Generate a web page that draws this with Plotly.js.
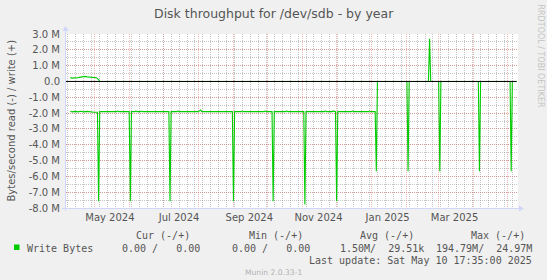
<!DOCTYPE html>
<html><head><meta charset="utf-8">
<script src="https://cdn.plot.ly/plotly-3.0.1.min.js"></script>
<style>html,body{margin:0;padding:0;background:#F0F0F0;}#chart{width:547px;height:280px;}</style>
</head><body><div id="chart"></div>
<script>
// ---------------- data ----------------
const readDates = [
 '2024-04-10','2024-04-12','2024-04-14','2024-04-17','2024-04-19','2024-04-22','2024-04-25','2024-04-28','2024-05-01','2024-05-04',
 '2024-05-05','2024-05-06','2024-05-21','2024-05-22','2024-05-23','2024-06-01','2024-06-02','2024-06-03','2024-06-06','2024-06-07',
 '2024-06-08','2024-06-11','2024-06-12','2024-06-13','2024-06-16','2024-06-17','2024-06-18','2024-07-06','2024-07-07','2024-07-08',
 '2024-07-13','2024-07-14','2024-07-15','2024-07-23','2024-07-24','2024-07-25','2024-08-01','2024-08-03','2024-08-04','2024-08-31',
 '2024-09-01','2024-09-02','2024-09-08','2024-09-09','2024-09-10','2024-09-28','2024-09-29','2024-09-30','2024-10-05','2024-10-06',
 '2024-10-07','2024-10-17','2024-10-18','2024-10-19','2024-11-02','2024-11-03','2024-11-04','2024-11-20','2024-11-21','2024-11-22',
 '2024-11-27','2024-11-28','2024-11-29','2024-11-30','2024-12-01','2024-12-02','2024-12-14','2024-12-15','2024-12-16','2024-12-29',
 '2024-12-30','2024-12-31','2025-01-04','2025-01-05','2025-01-06','2025-02-01','2025-02-02','2025-02-03','2025-03-01','2025-03-02',
 '2025-03-03','2025-04-05','2025-04-06','2025-04-07','2025-05-03','2025-05-04','2025-05-05','2025-05-09'
];
const readBytes = [
 -1.90e6,-1.92e6,-1.89e6,-1.92e6,-1.88e6,-1.92e6,-1.89e6,-1.93e6,-1.95e6,-1.95e6,
 -7.57e6,-1.91e6,-1.91e6,-1.86e6,-1.91e6,-1.91e6,-7.57e6,-1.91e6,-1.91e6,-1.86e6,
 -1.91e6,-1.91e6,-1.87e6,-1.91e6,-1.91e6,-1.87e6,-1.91e6,-1.91e6,-7.57e6,-1.91e6,
 -1.91e6,-1.86e6,-1.91e6,-1.91e6,-1.87e6,-1.91e6,-1.91e6,-1.80e6,-1.91e6,-1.91e6,
 -7.57e6,-1.91e6,-1.91e6,-1.86e6,-1.91e6,-1.91e6,-1.86e6,-1.91e6,-1.91e6,-7.57e6,
 -1.91e6,-1.91e6,-1.86e6,-1.91e6,-1.91e6,-7.78e6,-1.91e6,-1.91e6,-1.86e6,-1.91e6,
 -1.91e6,-1.86e6,-1.91e6,-1.91e6,-7.57e6,-1.91e6,-1.91e6,-1.86e6,-1.91e6,-1.91e6,
 -1.86e6,-1.91e6,-1.91e6,-5.68e6,0,0,-5.68e6,0,0,-5.68e6,
 0,0,-5.68e6,0,0,-5.68e6,0,0
];
const writeDates = [
 '2024-04-10','2024-04-12','2024-04-14','2024-04-16','2024-04-18','2024-04-20','2024-04-23','2024-04-25','2024-04-28','2024-05-01',
 '2024-05-03','2024-05-05','2024-05-06','2025-02-20','2025-02-21','2025-02-22','2025-05-09'
];
const writeBytes = [
 0.24e6,0.21e6,0.23e6,0.22e6,0.26e6,0.30e6,0.32e6,0.29e6,0.28e6,0.27e6,
 0.24e6,0.12e6,0,0,2.70e6,0,0
];
const monthGridDates = ['2024-05-01','2024-06-01','2024-07-01','2024-08-01','2024-09-01','2024-10-01','2024-11-01',
 '2024-12-01','2025-01-01','2025-02-01','2025-03-01','2025-04-01','2025-05-01'];
const monthLabelDates = ['2024-05-15','2024-07-15','2024-09-15','2024-11-15','2025-01-15','2025-03-15'];
const monthLabels = ['May 2024','Jul 2024','Sep 2024','Nov 2024','Jan 2025','Mar 2025'];
const yTickValues = [3e6,2e6,1e6,0,-1e6,-2e6,-3e6,-4e6,-5e6,-6e6,-7e6,-8e6];
const yTickLabels = ['3.0 M','2.0 M','1.0 M','0.0','-1.0 M','-2.0 M','-3.0 M','-4.0 M','-5.0 M','-6.0 M','-7.0 M','-8.0 M'];
const chartTitle = 'Disk throughput for /dev/sdb - by year';
const yTitle = 'Bytes/second read (-) / write (+)';
const seriesName = 'Write Bytes';
const legendHeaders = ['Cur (-/+)','Min (-/+)','Avg (-/+)','Max (-/+)'];
const legendValues = ['0.00 /   0.00','0.00 /   0.00','1.50M/  29.51k','194.79M/  24.97M'];
const lastUpdate = 'Last update: Sat May 10 17:35:00 2025';
const watermark = 'Munin 2.0.33-1';
const sideMark = 'RRDTOOL / TOBI OETIKER';

// ---------------- layout helpers ----------------
const W = 547, H = 280;
const M = {l: 66, r: 29, t: 34, b: 72};
const PW = W - M.l - M.r, PH = H - M.t - M.b;
const px = x => (x - M.l) / PW;
const py = y => (H - M.b - y) / PH;
const nb = s => s.replace(/ /g, '\u00A0');
const GREEN = '#00CC00';
const TXT = '#555555';
const AXIS = '#CFD6F8';
const xRange = ['2024-04-06 06:00', '2025-05-10 00:00'];
const WEEK = 7 * 86400000;

const traces = [
 {x: readDates, y: readBytes, type: 'scatter', mode: 'lines', line: {color: GREEN, width: 1.1}, hoverinfo: 'skip', showlegend: false},
 {x: writeDates, y: writeBytes, type: 'scatter', mode: 'lines', line: {color: GREEN, width: 1.1}, name: seriesName, showlegend: false},
 {x: monthLabelDates, y: monthLabelDates.map(() => null), xaxis: 'x2', type: 'scatter', mode: 'markers', showlegend: false, hoverinfo: 'skip'},
 {x: monthLabelDates, y: monthLabelDates.map(() => null), xaxis: 'x3', type: 'scatter', mode: 'markers', showlegend: false, hoverinfo: 'skip'}
];

const grid = {red: 'rgba(235,110,110,0.5)', gray: 'rgba(140,140,140,0.5)'};
const annotations = [];
const font = (s, c, f) => ({family: f || 'DejaVu Sans', size: s, color: c || TXT});
annotations.push({text: chartTitle, xref: 'paper', yref: 'paper', x: px(273.5), y: py(13), showarrow: false, xanchor: 'center', yanchor: 'middle', font: font(12.5)});
annotations.push({text: yTitle, xref: 'paper', yref: 'paper', x: px(10.5), y: py(121), showarrow: false, textangle: -90, xanchor: 'center', yanchor: 'middle', font: font(10)});
annotations.push({text: sideMark, xref: 'paper', yref: 'paper', x: px(539.5), y: py(56), showarrow: false, textangle: 90, xanchor: 'center', yanchor: 'middle', font: font(8, '#c4c4c4')});
const mono = 'DejaVu Sans Mono';
const headerRight = [191, 303.5, 414.5, 526];
const valueRight = [201, 310.5, 425, 533];
legendHeaders.forEach((h, i) => annotations.push({text: nb(h), xref: 'paper', yref: 'paper', x: px(headerRight[i]), y: py(235.5), showarrow: false, xanchor: 'right', yanchor: 'middle', borderpad: 0, font: font(10, TXT, mono)}));
legendValues.forEach((v, i) => annotations.push({text: nb(v), xref: 'paper', yref: 'paper', x: px(valueRight[i]), y: py(248), showarrow: false, xanchor: 'right', yanchor: 'middle', borderpad: 0, font: font(10, TXT, mono)}));
annotations.push({text: nb(seriesName), xref: 'paper', yref: 'paper', x: px(25.5), y: py(248), showarrow: false, xanchor: 'left', yanchor: 'middle', borderpad: 0, font: font(10, TXT, mono)});
annotations.push({text: nb(lastUpdate), xref: 'paper', yref: 'paper', x: px(533), y: py(260.8), showarrow: false, xanchor: 'right', yanchor: 'middle', borderpad: 0, font: font(10, TXT, mono)});
annotations.push({text: watermark, xref: 'paper', yref: 'paper', x: px(273.5), y: py(272.8), showarrow: false, xanchor: 'center', yanchor: 'middle', font: font(7.6, '#b0b0b0')});

const shapes = [
 {type: 'line', xref: 'paper', yref: 'y', x0: 0, x1: px(516.5), y0: 0, y1: 0, line: {color: '#000000', width: 1}, layer: 'above'},
 {type: 'line', xref: 'paper', yref: 'paper', x0: px(65.5), x1: px(65.5), y0: py(211), y1: py(30), line: {color: AXIS, width: 1}, layer: 'above'},
 {type: 'path', xref: 'paper', yref: 'paper', path: `M ${px(62.5)} ${py(31)} L ${px(68.5)} ${py(31)} L ${px(65.5)} ${py(26)} Z`, fillcolor: AXIS, line: {color: AXIS, width: 0}, layer: 'above'},
 {type: 'line', xref: 'paper', yref: 'paper', x0: px(62), x1: px(520), y0: py(208.5), y1: py(208.5), line: {color: AXIS, width: 1}, layer: 'above'},
 {type: 'path', xref: 'paper', yref: 'paper', path: `M ${px(519)} ${py(205.5)} L ${px(519)} ${py(211.5)} L ${px(524)} ${py(208.5)} Z`, fillcolor: AXIS, line: {color: AXIS, width: 0}, layer: 'above'},
 {type: 'rect', xref: 'paper', yref: 'paper', x0: px(14), x1: px(19.5), y0: py(244.5), y1: py(250), fillcolor: GREEN, line: {width: 0}}
];

const layout = {
 width: W, height: H, margin: M,
 paper_bgcolor: '#F0F0F0', plot_bgcolor: '#FFFFFF',
 showlegend: false,
 xaxis3: {type: 'date', range: xRange, tickmode: 'linear', tick0: '2024-04-08', dtick: WEEK, showticklabels: false, ticks: '',
   showgrid: true, gridcolor: grid.gray, gridwidth: 1, griddash: '1px,1px', zeroline: false, showline: false},
 xaxis: {type: 'date', range: xRange, tickmode: 'array', tickvals: monthGridDates, showticklabels: false, ticks: '',
   showgrid: true, gridcolor: grid.red, gridwidth: 1, griddash: '1px,1px', zeroline: false, showline: false},
 xaxis2: {type: 'date', range: xRange, overlaying: 'x', anchor: 'y', side: 'bottom', tickmode: 'array', tickvals: monthLabelDates, ticktext: monthLabels,
   showgrid: false, zeroline: false, showline: false, ticks: '', tickfont: font(10), ticklabelstandoff: 2},
 yaxis: {range: [-8e6, 3e6], tickmode: 'array', tickvals: yTickValues, ticktext: yTickLabels, ticks: '', tickfont: font(10),
   showgrid: true, gridcolor: grid.red, gridwidth: 1, griddash: '1px,1px', zeroline: false, showline: false, ticklabelstandoff: 5,
   minor: {dtick: 0.5e6, tick0: 0, showgrid: true, gridcolor: grid.gray, gridwidth: 1, griddash: '1px,1px', ticks: ''}},
 annotations: annotations,
 shapes: shapes
};
layout.xaxis3.overlaying = 'x';
layout.xaxis3.anchor = 'y';
Plotly.newPlot('chart', traces, layout, {staticPlot: true, displayModeBar: false});
</script></body></html>
